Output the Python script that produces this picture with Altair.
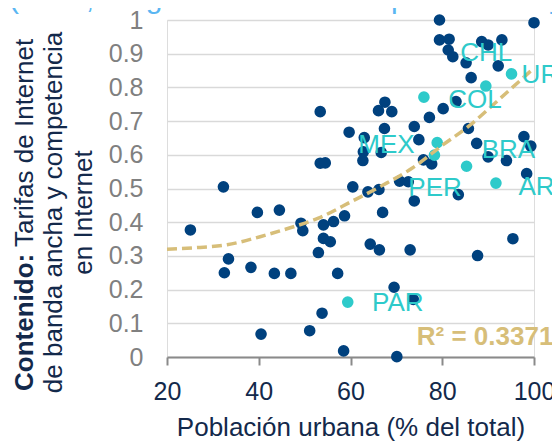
import altair as alt
import pandas as pd

# ---- data ----
dark_x = [32.3, 53.4, 59.7, 63.0, 62.8, 62.7, 66.7, 67.4, 66.1, 67.5, 69.0, 73.9, 74.9, 77.2,
          80.2, 83.0, 75.9, 77.7, 85.7, 87.5, 90.0, 94.0, 97.8, 99.3, 98.4, 70.7, 72.6, 60.5,
          63.8, 66.2, 83.5, 73.9, 53.4, 54.5, 39.7, 44.5, 25.1, 49.2, 49.6, 54.1, 56.3, 58.7,
          67.0, 54.1, 55.6, 53.0, 64.3, 66.3, 73.0, 95.4, 87.7, 33.4, 32.5, 38.3, 43.4, 47.0,
          57.2, 69.5, 73.7, 53.8, 51.1, 40.5, 58.5, 70.1, 79.4, 100.0, 79.4, 81.5, 81.3, 82.3,
          88.6, 90.0, 93.0, 85.2, 92.2, 86.3]
dark_y = [0.505, 0.728, 0.667, 0.651, 0.609, 0.583, 0.607, 0.678, 0.731, 0.756, 0.728, 0.684,
          0.645, 0.711, 0.737, 0.758, 0.585, 0.573, 0.678, 0.634, 0.594, 0.583, 0.654, 0.626,
          0.544, 0.522, 0.520, 0.505, 0.490, 0.497, 0.482, 0.463, 0.575, 0.576, 0.429, 0.436,
          0.377, 0.397, 0.375, 0.392, 0.402, 0.419, 0.429, 0.352, 0.342, 0.310, 0.335, 0.318,
          0.318, 0.351, 0.301, 0.291, 0.250, 0.266, 0.248, 0.248, 0.248, 0.207, 0.171, 0.130,
          0.078, 0.068, 0.018, 0.001, 1.000, 0.992, 0.941, 0.943, 0.911, 0.891, 0.936, 0.926,
          0.941, 0.873, 0.864, 0.829]

lac_codes = ["COL", "CHL", "URU", "MEX", "PER", "BRA", "ARG", "PAR"]
lac_x = [76.0, 89.5, 95.1, 78.9, 78.3, 85.3, 91.7, 59.4]
lac_y = [0.771, 0.804, 0.840, 0.636, 0.599, 0.566, 0.516, 0.163]
# where each country name sits (data units, left edge / vertical centre)
label_x = [81.3, 83.9, 97.3, 61.7, 72.6, 88.6, 96.6, 64.7]
label_y = [0.763, 0.901, 0.837, 0.629, 0.501, 0.614, 0.505, 0.160]

# quadratic trend line
trend_x = [20, 25.8, 33.1, 40.3, 46.5, 53.0, 60.3, 66.8, 73.4, 80.2, 85.7, 92.2, 99.8]
trend_y = [0.320, 0.324, 0.333, 0.357, 0.382, 0.412, 0.462, 0.508, 0.560, 0.630, 0.684, 0.762, 0.855]
r2_label = "R² = 0.3371"
r2_pos = (74.45, 0.060)

x_ticks = [20, 40, 60, 80, 100]
y_ticks = [0, 0.1, 0.2, 0.3, 0.4, 0.5, 0.6, 0.7, 0.8, 0.9, 1.0]

title_text = "(2016, rango de escala de 0 peor a 1 mejor)"
ytitle_bold = "Contenido:"
ytitle_l1 = "Tarifas de Internet"
ytitle_l2 = "de banda ancha y competencia"
ytitle_l3 = "en Internet"

# ---- styles ----
NAVY = "#13294b"
DARK = "#00417e"
TEAL = "#2ecaca"
TAN = "#d7be79"
FONT = "Liberation Sans"

W, H = 367, 337

xs = alt.Scale(domain=[20, 100], nice=False, zero=False)
ys = alt.Scale(domain=[0, 1], nice=False)

dark_df = pd.DataFrame({"x": dark_x, "y": dark_y})
lac_df = pd.DataFrame({"x": lac_x, "y": lac_y, "code": lac_codes})
lab_df = pd.DataFrame({"x": label_x, "y": label_y, "code": lac_codes})
trend_df = pd.DataFrame({"x": trend_x, "y": trend_y})
r2_df = pd.DataFrame({"x": [r2_pos[0]], "y": [r2_pos[1]], "t": [r2_label]})

x_axis = alt.Axis(values=x_ticks, title="Población urbana (% del total)", grid=False,
                  domainColor="#8a8a8a", domainWidth=2, tickColor="#8a8a8a", tickWidth=2,
                  tickSize=8, labelFontSize=25, labelColor=NAVY, labelPadding=14,
                  labelFlush=False, labelOverlap=False,
                  titleFontSize=26, titleFontWeight="normal", titleColor=NAVY, titlePadding=10)
y_axis = alt.Axis(values=y_ticks, format=".1~f", title=None, domain=False, ticks=False,
                  tickSize=0, grid=True, gridColor="#d9d9d9", gridWidth=1.5,
                  labelOverlap=False, labelFlush=False,
                  labelFontSize=25, labelColor="#808080", labelPadding=24)

X = alt.X("x:Q", scale=xs, axis=x_axis)
Y = alt.Y("y:Q", scale=ys, axis=y_axis)

points = alt.Chart(dark_df).mark_circle(size=135, opacity=1, color=DARK).encode(x=X, y=Y)

teal = alt.Chart(lac_df).mark_circle(size=135, opacity=1, color=TEAL).encode(x=X, y=Y)

trend = alt.Chart(trend_df).mark_line(color=TAN, strokeWidth=3.5, strokeDash=[10, 5],
                                      interpolate="monotone").encode(x=X, y=Y)

labels = alt.Chart(lab_df).mark_text(align="left", baseline="middle", fontSize=26,
                                     color=TEAL, font=FONT).encode(x=X, y=Y, text="code:N")

r2 = alt.Chart(r2_df).mark_text(align="left", baseline="middle", fontSize=26,
                                fontWeight="bold", color=TAN, font=FONT).encode(x=X, y=Y, text="t:N")

one = pd.DataFrame({"k": [0]})

title = alt.Chart(one).mark_text(text=title_text, align="left", baseline="alphabetic",
                                 fontSize=30, color="#5ab6f2", font=FONT).encode(
    x=alt.value(-158), y=alt.value(-12))

yt_bold = alt.Chart(one).mark_text(text=ytitle_bold, angle=270, align="left", baseline="middle",
                                   fontSize=26, fontWeight="bold", color=NAVY, font=FONT).encode(
    x=alt.value(-142.5), y=alt.value(371))
yt_1 = alt.Chart(one).mark_text(text=ytitle_l1, angle=270, align="left", baseline="middle",
                                fontSize=26, color=NAVY, font=FONT).encode(
    x=alt.value(-142.5), y=alt.value(227))
yt_2 = alt.Chart(one).mark_text(text=ytitle_l2, angle=270, align="center", baseline="middle",
                                fontSize=26, color=NAVY, font=FONT).encode(
    x=alt.value(-113), y=alt.value(192.5))
yt_3 = alt.Chart(one).mark_text(text=ytitle_l3, angle=270, align="center", baseline="middle",
                                fontSize=26, color=NAVY, font=FONT).encode(
    x=alt.value(-83.5), y=alt.value(192.5))

chart = alt.layer(points, teal, trend, labels, r2, title, yt_bold, yt_1, yt_2, yt_3).properties(
    width=W, height=H,
    autosize=alt.AutoSizeParams(type="none"),
    padding={"left": 159, "top": 12, "right": 18, "bottom": 86},
).configure_view(strokeWidth=0, stroke="transparent").configure(font=FONT)

chart.save("out.html", embed_options={"renderer": "svg", "actions": False})
